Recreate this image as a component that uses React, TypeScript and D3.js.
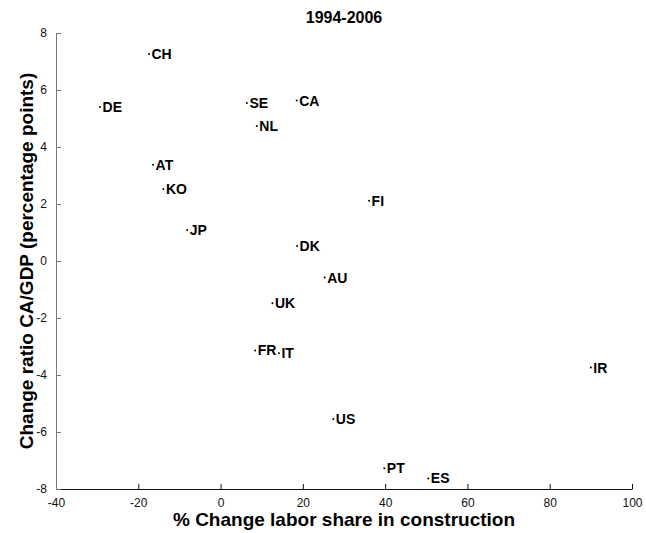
import React, { useEffect, useRef } from 'react';
import * as d3 from 'd3';

const countries = ['CH', 'DE', 'SE', 'CA', 'NL', 'AT', 'KO', 'JP', 'FI', 'DK', 'AU', 'UK', 'FR', 'IT', 'IR', 'US', 'PT', 'ES'];
const laborChange = [-17.4, -29.3, 6.4, 18.5, 8.8, -16.4, -13.9, -8.1, 36.1, 18.6, 25.3, 12.6, 8.4, 14.2, 90.0, 27.4, 39.8, 50.5];
const caChange = [7.26, 5.4, 5.54, 5.63, 4.74, 3.38, 2.53, 1.09, 2.11, 0.53, -0.58, -1.48, -3.14, -3.24, -3.74, -5.54, -7.27, -7.63];
const xTicks = [-40, -20, 0, 20, 40, 60, 80, 100];
const yTicks = [-8, -6, -4, -2, 0, 2, 4, 6, 8];

const ScatterChart: React.FC = () => {
  const svgRef = useRef<SVGSVGElement>(null);
  const WIDTH = 646;
  const HEIGHT = 533;
  const MARGIN = { top: 33, right: 14, bottom: 44, left: 56 };

  useEffect(() => {
    if (!svgRef.current) return;
    const svg = d3.select(svgRef.current);
    svg.selectAll('*').remove();

    const innerWidth = WIDTH - MARGIN.left - MARGIN.right;
    const innerHeight = HEIGHT - MARGIN.top - MARGIN.bottom;
    const font = 'Liberation Sans, Arial, Helvetica, sans-serif';
    // plain hyphen for negatives, like the original
    const fmt = (d: d3.NumberValue) => String(d);

    const x = d3.scaleLinear().domain([-40, 100]).range([0, innerWidth]);
    const y = d3.scaleLinear().domain([-8, 8]).range([innerHeight, 0]);

    const g = svg.append('g').attr('transform', `translate(${MARGIN.left},${MARGIN.top})`);

    // axes: only left and bottom, ticks pointing inward
    const xAxis = g.append('g')
      .attr('transform', `translate(0,${innerHeight})`)
      .call(d3.axisBottom(x).tickValues(xTicks).tickSizeInner(-5).tickSizeOuter(0).tickPadding(9).tickFormat(fmt));
    xAxis.select('.domain').attr('stroke', '#111').attr('stroke-width', 1);
    xAxis.selectAll('.tick line').attr('stroke', '#111');
    xAxis.selectAll('.tick text')
      .attr('font-family', font).attr('font-size', 12).attr('fill', '#111');

    const yAxis = g.append('g')
      .call(d3.axisLeft(y).tickValues(yTicks).tickSizeInner(-5).tickSizeOuter(0).tickPadding(9).tickFormat(fmt));
    yAxis.select('.domain').attr('stroke', '#777').attr('stroke-width', 1);
    yAxis.selectAll('.tick line').attr('stroke', '#777');
    yAxis.selectAll('.tick text')
      .attr('font-family', font).attr('font-size', 12).attr('fill', '#111');

    // points with labels
    const pts = g.append('g');
    countries.forEach((c, i) => {
      const px = x(laborChange[i]);
      const py = y(caChange[i]);
      pts.append('circle').attr('cx', px).attr('cy', py).attr('r', 1).attr('fill', '#000');
      pts.append('text')
        .attr('x', px + 2.5)
        .attr('y', py + 5)
        .attr('font-family', font)
        .attr('font-size', 14)
        .attr('font-weight', 'bold')
        .attr('fill', '#000')
        .text(c);
    });

    // title
    svg.append('text')
      .attr('x', MARGIN.left + innerWidth / 2)
      .attr('y', 23)
      .attr('text-anchor', 'middle')
      .attr('font-family', font)
      .attr('font-size', 16)
      .attr('font-weight', 'bold')
      .text('1994-2006');

    // axis titles
    svg.append('text')
      .attr('x', MARGIN.left + innerWidth / 2)
      .attr('y', 526)
      .attr('text-anchor', 'middle')
      .attr('font-family', font)
      .attr('font-size', 19)
      .attr('font-weight', 'bold')
      .text('% Change labor share in construction');

    svg.append('text')
      .attr('transform', `translate(33,${MARGIN.top + innerHeight / 2}) rotate(-90)`)
      .attr('text-anchor', 'middle')
      .attr('font-family', font)
      .attr('font-size', 19)
      .attr('font-weight', 'bold')
      .text('Change ratio CA/GDP (percentage points)');
  }, []);

  return (
    <svg
      ref={svgRef}
      width={WIDTH}
      height={HEIGHT}
      style={{ position: 'absolute', left: 0, top: 0, background: '#fff' }}
    />
  );
};

export default function App() {
  return <ScatterChart />;
}
